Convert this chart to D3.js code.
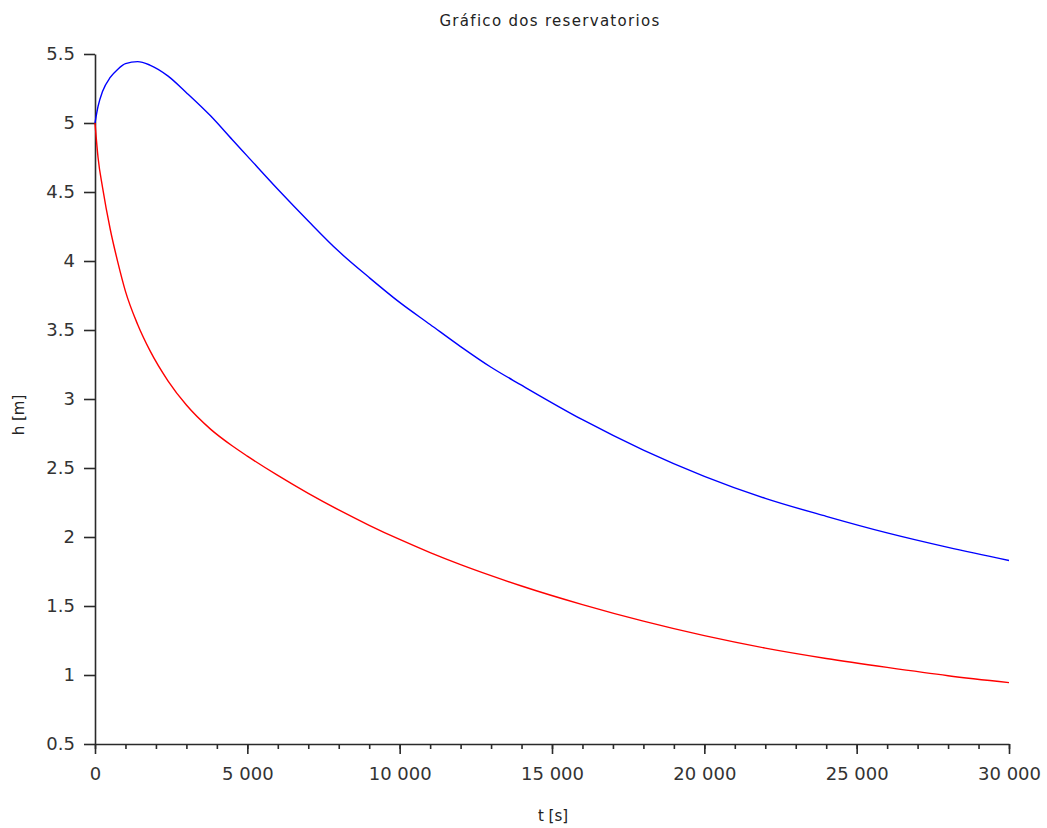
<!DOCTYPE html>
<html>
<head>
<meta charset="utf-8">
<script src="https://cdn.jsdelivr.net/npm/d3@7"></script>
<style>
    body { margin: 0; background: #fff; }
    svg { display: block; }
    .tick text { font-family: "DejaVu Sans", sans-serif; font-size: 18px; fill: #333; }
</style>
</head>
<body>
<svg id="chart" width="1047" height="828"></svg>
<script>
// time samples [s]
const times = [0, 100, 250, 500, 750, 1000, 1400, 1800, 2400, 3000, 3800, 4500, 5000,
    6000, 7000, 8000, 9000, 10000, 11000, 12000, 13000, 14000, 16000, 18000, 20000,
    22000, 24000, 26000, 28000, 30000];

// reservoir levels h [m]
const hBlue = [5.00, 5.12, 5.23, 5.33, 5.39, 5.43, 5.445, 5.42, 5.34, 5.22, 5.05, 4.88, 4.76,
    4.52, 4.29, 4.07, 3.88, 3.70, 3.54, 3.38, 3.23, 3.10, 2.85, 2.63, 2.44,
    2.28, 2.15, 2.03, 1.925, 1.83];
const hRed = [5.00, 4.75, 4.53, 4.23, 3.99, 3.78, 3.54, 3.352, 3.13, 2.956, 2.78, 2.661, 2.586,
    2.446, 2.316, 2.196, 2.085, 1.982, 1.887, 1.80, 1.72, 1.645, 1.51, 1.39, 1.285,
    1.195, 1.12, 1.055, 0.995, 0.945];

const xTicks = [0, 5000, 10000, 15000, 20000, 25000, 30000];
const yTicks = [0.5, 1, 1.5, 2, 2.5, 3, 3.5, 4, 4.5, 5, 5.5];

const title = "Gráfico dos reservatorios";
const xLabel = "t [s]";
const yLabel = "h [m]";

const svg = d3.select("#chart");
const axisColor = "#2a2a2a";

const x = d3.scaleLinear().domain([0, 30000]).range([95, 1009]);
const y = d3.scaleLinear().domain([0.5, 5.5]).range([744, 54]);

const fmt = d3.formatLocale({decimal: ".", thousands: " ", grouping: [3], currency: ["", ""]}).format(",d");

// minor x ticks
svg.append("g")
    .attr("transform", `translate(0,${y(0.5)})`)
    .call(d3.axisBottom(x).tickValues(d3.range(0, 30001, 1000)).tickSize(5).tickFormat(""))
    .call(g => g.select(".domain").remove())
    .call(g => g.selectAll("line").attr("stroke", axisColor).attr("stroke-width", 1.6));

// major x axis
svg.append("g")
    .attr("transform", `translate(0,${y(0.5)})`)
    .call(d3.axisBottom(x).tickValues(xTicks).tickSize(10).tickSizeOuter(0).tickPadding(13).tickFormat(fmt))
    .call(g => g.select(".domain").attr("stroke", axisColor).attr("stroke-width", 1.6))
    .call(g => g.selectAll("line").attr("stroke", axisColor).attr("stroke-width", 1.6));

// y axis
svg.append("g")
    .attr("transform", `translate(${x(0)},0)`)
    .call(d3.axisLeft(y).tickValues(yTicks).tickSize(11).tickSizeOuter(0).tickPadding(9).tickFormat(d3.format("")))
    .call(g => g.select(".domain").attr("stroke", axisColor).attr("stroke-width", 1.6))
    .call(g => g.selectAll("line").attr("stroke", axisColor).attr("stroke-width", 1.6));

// curves
const line = series => d3.line()
    .x((d, i) => x(times[i]))
    .y(d => y(d))
    .curve(d3.curveMonotoneX)(series);

svg.append("path").attr("d", line(hBlue))
    .attr("fill", "none").attr("stroke", "#0000ff").attr("stroke-width", 1.4);
svg.append("path").attr("d", line(hRed))
    .attr("fill", "none").attr("stroke", "#ff0000").attr("stroke-width", 1.4);

// title and labels
svg.append("text")
    .attr("x", 550).attr("y", 26)
    .attr("text-anchor", "middle")
    .style("font-family", "DejaVu Sans, sans-serif")
    .style("font-size", "15px")
    .style("letter-spacing", "1.3px")
    .attr("fill", "#222")
    .text(title);

svg.append("text")
    .attr("x", 553).attr("y", 821)
    .attr("text-anchor", "middle")
    .style("font-family", "DejaVu Sans, sans-serif")
    .style("font-size", "15px")
    .attr("fill", "#222")
    .text(xLabel);

svg.append("text")
    .attr("transform", "translate(24,415) rotate(-90)")
    .attr("text-anchor", "middle")
    .style("font-family", "DejaVu Sans, sans-serif")
    .style("font-size", "15px")
    .attr("fill", "#222")
    .text(yLabel);
</script>
</body>
</html>
